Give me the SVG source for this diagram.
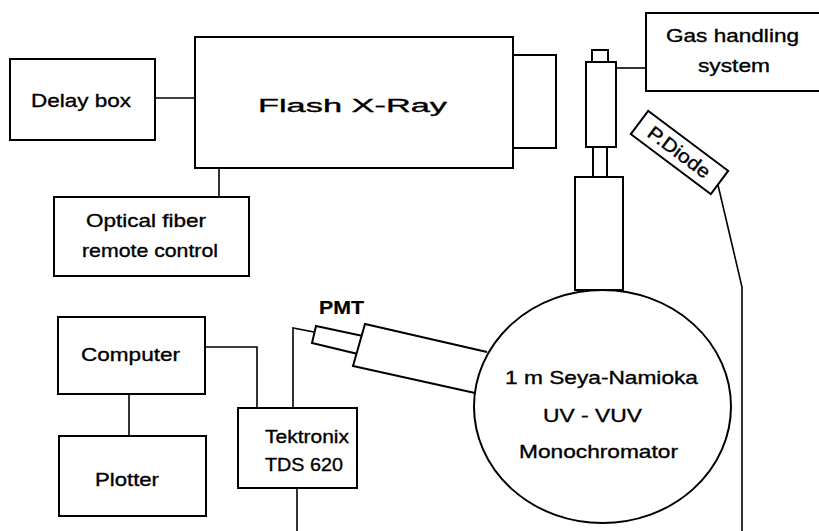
<svg xmlns="http://www.w3.org/2000/svg" width="819" height="531" viewBox="0 0 819 531">
<style>
.box{fill:#fff;stroke:#000;stroke-width:2}
.ln{fill:none;stroke:#000;stroke-width:1.6}
.t{font-family:"Liberation Sans",Arial,sans-serif;font-size:19px;fill:#000;stroke:#000;stroke-width:0.35}
.b{font-weight:bold;stroke-width:0.2}
</style>
<rect width="819" height="531" fill="#fff"/>
<g id="connectors">
<line class="ln" x1="155" y1="98" x2="195" y2="98"/>
<line class="ln" x1="219" y1="168" x2="219" y2="197"/>
<line class="ln" x1="616" y1="68" x2="646" y2="68"/>
<line class="ln" x1="129" y1="394" x2="129" y2="436"/>
<polyline class="ln" points="205,347 257,347 257,408"/>
<polyline class="ln" points="293,408 293,328 314,332"/>
<line class="ln" x1="297" y1="488" x2="297" y2="531"/>
<polyline class="ln" points="718,185 742,287 742,531"/>
</g>
<g id="delay-box">
<rect class="box" x="10" y="59" width="145" height="81"/>
<text class="t" x="31" y="107" font-size="20" textLength="100" lengthAdjust="spacingAndGlyphs">Delay box</text>
</g>
<g id="flash-xray">
<rect class="box" x="195" y="37" width="318" height="131"/>
<rect class="box" x="513" y="55" width="43" height="93"/>
<text class="t" x="258" y="112" font-size="29" textLength="189" lengthAdjust="spacingAndGlyphs">Flash X-Ray</text>
</g>
<g id="optical-fiber">
<rect class="box" x="54" y="197" width="195" height="79"/>
<text class="t" x="86" y="227" textLength="120" lengthAdjust="spacingAndGlyphs">Optical fiber</text>
<text class="t" x="82" y="257" textLength="136" lengthAdjust="spacingAndGlyphs">remote control</text>
</g>
<g id="gas-handling">
<rect class="box" x="646" y="13" width="185" height="78"/>
<text class="t" x="666" y="42" textLength="133" lengthAdjust="spacingAndGlyphs">Gas handling</text>
<text class="t" x="698" y="72" textLength="72" lengthAdjust="spacingAndGlyphs">system</text>
</g>
<g id="gas-cell">
<rect class="box" x="592" y="50" width="16" height="12"/>
<rect class="box" x="586" y="62" width="30" height="85"/>
<rect class="box" x="593" y="147" width="14" height="30"/>
<rect class="box" x="575" y="177" width="48" height="113"/>
</g>
<g id="p-diode">
<g transform="translate(679.5,152.5) rotate(36.87)">
<rect class="box" x="-50" y="-14.5" width="100" height="29"/>
<text class="t" x="-37" y="6.5" font-size="17" textLength="73" lengthAdjust="spacingAndGlyphs">P.Diode</text>
</g>
</g>
<g id="pmt">
<polygon class="box" points="316,326 363,336 358,354 312,343"/>
<path class="box" d="M487,352 L365,324 L353,366 L475,393"/>
<text class="t b" x="319" y="314" font-size="20" textLength="45" lengthAdjust="spacingAndGlyphs">PMT</text>
</g>
<g id="monochromator">
<ellipse cx="602.5" cy="406.5" rx="128.5" ry="116.5" fill="none" stroke="#000" stroke-width="2"/>
<text class="t" x="505" y="384" textLength="193" lengthAdjust="spacingAndGlyphs">1 m Seya-Namioka</text>
<text class="t" x="543" y="422" textLength="99" lengthAdjust="spacingAndGlyphs">UV - VUV</text>
<text class="t" x="519" y="458" textLength="159" lengthAdjust="spacingAndGlyphs">Monochromator</text>
</g>
<g id="computer">
<rect class="box" x="58" y="317" width="147" height="77"/>
<text class="t" x="81" y="361" font-size="20" textLength="99" lengthAdjust="spacingAndGlyphs">Computer</text>
</g>
<g id="plotter">
<rect class="box" x="59" y="436" width="147" height="80"/>
<text class="t" x="95" y="486" font-size="20" textLength="64" lengthAdjust="spacingAndGlyphs">Plotter</text>
</g>
<g id="tektronix">
<rect class="box" x="238" y="408" width="119" height="80"/>
<text class="t" x="265" y="443" font-size="20" textLength="84" lengthAdjust="spacingAndGlyphs">Tektronix</text>
<text class="t" x="265" y="471" font-size="20" textLength="78" lengthAdjust="spacingAndGlyphs">TDS 620</text>
</g>
</svg>
